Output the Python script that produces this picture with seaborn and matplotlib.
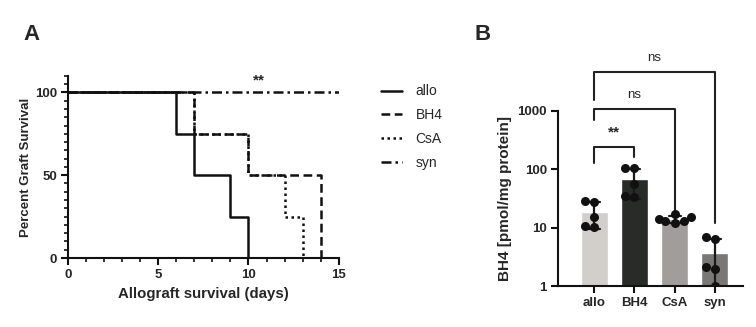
import numpy as np
import pandas as pd
import matplotlib
matplotlib.use('Agg')
import matplotlib.pyplot as plt
from matplotlib.ticker import MultipleLocator, NullLocator, FixedLocator
import seaborn as sns

sns.set_theme(style='ticks')
plt.rcParams['font.family'] = ['Liberation Sans', 'DejaVu Sans']

# --- panel A: Kaplan-Meier steps (percent graft survival) ---
groups = ['allo', 'BH4', 'CsA', 'syn']
allo_days = [0, 6, 7, 9, 10]
allo_surv = [100, 75, 50, 25, 0]
bh4_days = [0, 7, 10, 14]
bh4_surv = [100, 75, 50, 0]
csa_days = [0, 7, 10, 12, 13]
csa_surv = [100, 75, 50, 25, 0]
syn_days = [0, 15]
syn_surv = [100, 100]

# --- panel B: BH4 levels per animal ---
allo_bh4 = [28.5, 27.0, 15.4, 10.1, 10.6]
bh4_bh4 = [106, 104, 57, 35, 34]
csa_bh4 = [17.5, 15.0, 14.0, 13.0, 12.8, 12.2]
syn_bh4 = [6.8, 6.5, 2.1, 2.0, 1.0]
bar_colors = ['#d3cec9', '#272b28', '#a29d9a', '#7b7873']

curves = {'allo': (allo_days, allo_surv), 'BH4': (bh4_days, bh4_surv),
          'CsA': (csa_days, csa_surv), 'syn': (syn_days, syn_surv)}
styles = {'allo': '-', 'BH4': (0, (3.5, 1.8)), 'CsA': (0, (1, 1.4)),
          'syn': (0, (4, 1.6, 1, 1.6))}

fig = plt.figure(figsize=(7.56, 3.27), dpi=100)
ax1 = fig.add_axes([0.090, 0.211, 0.358, 0.557])
ax2 = fig.add_axes([0.738, 0.125, 0.245, 0.536])

handles = {}
for g in ['syn', 'CsA', 'BH4', 'allo']:
    d, s = curves[g]
    sns.lineplot(x=d, y=s, ax=ax1, color='#111111', linestyle=styles[g],
                 linewidth=1.8, drawstyle='steps-post', estimator=None,
                 sort=False, label=g)
    handles[g] = ax1.get_lines()[-1]

ax1.set_xlim(0, 15)
ax1.set_ylim(0, 110)
ax1.xaxis.set_major_locator(FixedLocator([0, 5, 10, 15]))
ax1.xaxis.set_minor_locator(MultipleLocator(1))
ax1.yaxis.set_major_locator(FixedLocator([0, 50, 100]))
ax1.yaxis.set_minor_locator(MultipleLocator(5))
ax1.set_xlabel('Allograft survival (days)', fontsize=10.8, fontweight='bold', labelpad=4)
ax1.set_ylabel('Percent Graft Survival', fontsize=9.5, fontweight='bold', labelpad=2)
ax1.text(10.6, 103, '**', ha='center', va='bottom', fontsize=11, fontweight='bold')
ax1.legend([handles[g] for g in groups], groups, loc='upper left',
           bbox_to_anchor=(0.487, 0.78), bbox_transform=fig.transFigure,
           frameon=False, fontsize=10, handlelength=1.5, handletextpad=1.0,
           labelspacing=0.7)

df_b = pd.DataFrame({
    'group': ['allo'] * len(allo_bh4) + ['BH4'] * len(bh4_bh4)
             + ['CsA'] * len(csa_bh4) + ['syn'] * len(syn_bh4),
    'value': allo_bh4 + bh4_bh4 + csa_bh4 + syn_bh4,
})

sns.barplot(data=df_b, x='group', y='value', hue='group', order=groups,
            palette=bar_colors, errorbar='sd', capsize=0.3, width=0.67,
            err_kws={'color': '#1a1a1a', 'linewidth': 1.6}, legend=False, ax=ax2)
ax2.set_yscale('log')
sns.swarmplot(data=df_b, x='group', y='value', order=groups, color='#111111',
              size=6.5, ax=ax2)
ax2.set_ylim(1, 1000)
ax2.set_xlim(-0.9, 3.7)
ax2.yaxis.set_major_locator(FixedLocator([1, 10, 100, 1000]))
ax2.yaxis.set_major_formatter(matplotlib.ticker.FixedFormatter(['1', '10', '100', '1000']))
ax2.yaxis.set_minor_locator(NullLocator())
ax2.set_xlabel('')
ax2.set_ylabel('BH4 [pmol/mg protein]', fontsize=11, fontweight='bold', labelpad=4)

# significance brackets (x0, x1, left foot, top, right foot, text)
brackets = [(0, 1, 129, 245, 165, '**', 330),
            (0, 2, 684, 1070, 18.8, 'ns', 1500),
            (0, 3, 1550, 4550, 11.9, 'ns', 6400)]
for x0, x1, y0, yt, y1, txt, ty in brackets:
    ax2.plot([x0, x0, x1, x1], [y0, yt, yt, y1], color='#222222', lw=1.5,
             clip_on=False)
    ax2.text((x0 + x1) / 2, ty, txt, ha='center', va='bottom',
             fontsize=11 if txt == '**' else 9.5,
             fontweight='bold' if txt == '**' else 'normal')

for ax in (ax1, ax2):
    sns.despine(ax=ax)
    for sp in ('left', 'bottom'):
        ax.spines[sp].set_linewidth(1.5)
        ax.spines[sp].set_color('#111111')
    ax.tick_params(which='major', length=5, width=1.5, color='#111111',
                   labelsize=9.5, pad=3)
    ax.tick_params(which='minor', length=3, width=1.2, color='#111111')
    for lab in ax.get_xticklabels() + ax.get_yticklabels():
        lab.set_fontweight('bold')

fig.text(0.042, 0.895, 'A', fontsize=16, fontweight='bold', ha='center', va='center')
fig.text(0.638, 0.895, 'B', fontsize=16, fontweight='bold', ha='center', va='center')

fig.savefig('out.png', dpi=100)
